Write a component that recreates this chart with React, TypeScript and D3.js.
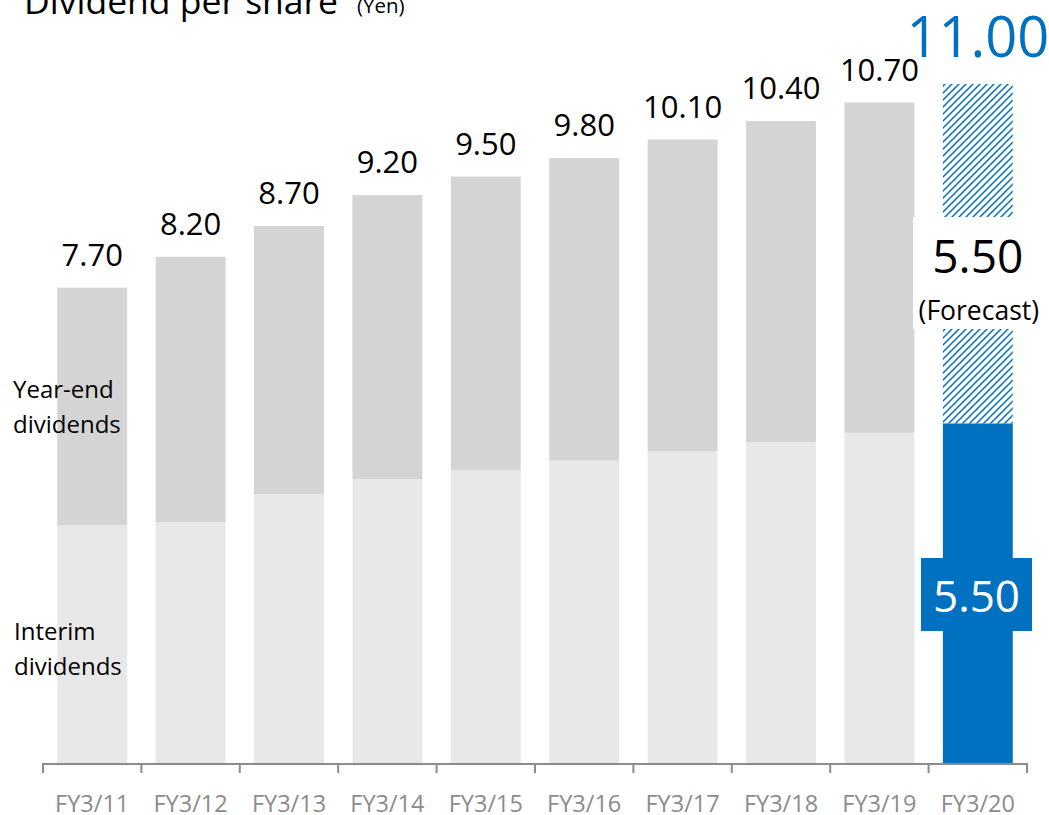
import React from "react";
import * as d3 from "d3";

const categories = ["FY3/11", "FY3/12", "FY3/13", "FY3/14", "FY3/15", "FY3/16", "FY3/17", "FY3/18", "FY3/19", "FY3/20"];
const interim = [3.85, 3.9, 4.35, 4.6, 4.75, 4.9, 5.05, 5.2, 5.35, 5.5];
const yearEnd = [3.85, 4.3, 4.35, 4.6, 4.75, 4.9, 5.05, 5.2, 5.35, 5.5];
const totalLabels = ["7.70", "8.20", "8.70", "9.20", "9.50", "9.80", "10.10", "10.40", "10.70", "11.00"];
const forecastIndex = 9;

const W = 1049;
const H = 815;
const FONT = "'Open Sans', 'Noto Sans', sans-serif";
const BLUE = "#0070C0";

export default function App() {
  const x = d3.scaleBand<string>().domain(categories).range([43, 1027]).paddingInner(0.29).paddingOuter(0.145);
  const y = d3.scaleLinear().domain([0, 11]).range([763, 84]);
  const step = x.step();
  const bw = x.bandwidth();
  const fx = x(categories[forecastIndex])!;
  const fTotal = interim[forecastIndex] + yearEnd[forecastIndex];

  return (
    <svg width={W} height={H} style={{ display: "block", position: "absolute", left: 0, top: 0 }} fontFamily={FONT}>
      <defs>
        <pattern id="hatch" patternUnits="userSpaceOnUse" width={7} height={7}>
          <path d="M-1,1 l2,-2 M0,7 l7,-7 M6,8 l2,-2" stroke={BLUE} strokeWidth={1.5} />
        </pattern>
      </defs>
      <rect width={W} height={H} fill="#fff" />

      {/* title */}
      <text x={24} y={14} fontSize={35.5} fill="#000">Dividend per share</text>
      <text x={357} y={13} fontSize={20.5} fill="#000">(Yen)</text>

      {/* bars */}
      {categories.map((c, i) => {
        if (i === forecastIndex) return null;
        const x0 = x(c)!;
        return (
          <g key={c}>
            <rect x={x0} y={y(interim[i])} width={bw} height={y(0) - y(interim[i])} fill="#E8E8E8" />
            <rect x={x0} y={y(interim[i] + yearEnd[i])} width={bw} height={y(interim[i]) - y(interim[i] + yearEnd[i])} fill="#D4D4D4" />
            <text x={x0 + bw / 2} y={y(interim[i] + yearEnd[i]) - 22} textAnchor="middle" fontSize={31} fill="#000">{totalLabels[i]}</text>
          </g>
        );
      })}

      {/* forecast bar */}
      <rect x={fx} y={y(interim[forecastIndex])} width={bw} height={y(0) - y(interim[forecastIndex])} fill={BLUE} />
      <rect x={fx} y={y(fTotal)} width={bw} height={y(interim[forecastIndex]) - y(fTotal)} fill="url(#hatch)" />
      <rect x={913} y={217} width={132} height={112} fill="#fff" />
      <text x={fx + bw / 2} y={273} textAnchor="middle" fontSize={46} fill="#000">{yearEnd[forecastIndex].toFixed(2)}</text>
      <text x={fx + bw / 2 + 1} y={320} textAnchor="middle" fontSize={26.5} fill="#000">(Forecast)</text>
      <text x={fx + bw / 2} y={57} textAnchor="middle" fontSize={56} fill={BLUE}>{totalLabels[forecastIndex]}</text>
      <rect x={921} y={558} width={111} height={73} fill={BLUE} />
      <text x={976.5} y={612} textAnchor="middle" fontSize={44} fill="#fff">{interim[forecastIndex].toFixed(2)}</text>

      {/* series labels */}
      <text fontSize={24} fill="#000">
        <tspan x={13} y={398}>Year-end</tspan>
        <tspan x={13} y={433}>dividends</tspan>
      </text>
      <text fontSize={24} fill="#000">
        <tspan x={14} y={640}>Interim</tspan>
        <tspan x={14} y={675}>dividends</tspan>
      </text>

      {/* axis */}
      <line x1={43} x2={1027} y1={764} y2={764} stroke="#8C8C8C" strokeWidth={2} />
      {d3.range(categories.length + 1).map((k) => {
        const tx = 43 + k * step;
        return <line key={k} x1={tx} x2={tx} y1={763} y2={773} stroke="#8C8C8C" strokeWidth={2} />;
      })}
      {categories.map((c) => (
        <text key={c} x={x(c)! + bw / 2} y={812} textAnchor="middle" fontSize={23.5} fill="#8C8C8C">{c}</text>
      ))}
    </svg>
  );
}
